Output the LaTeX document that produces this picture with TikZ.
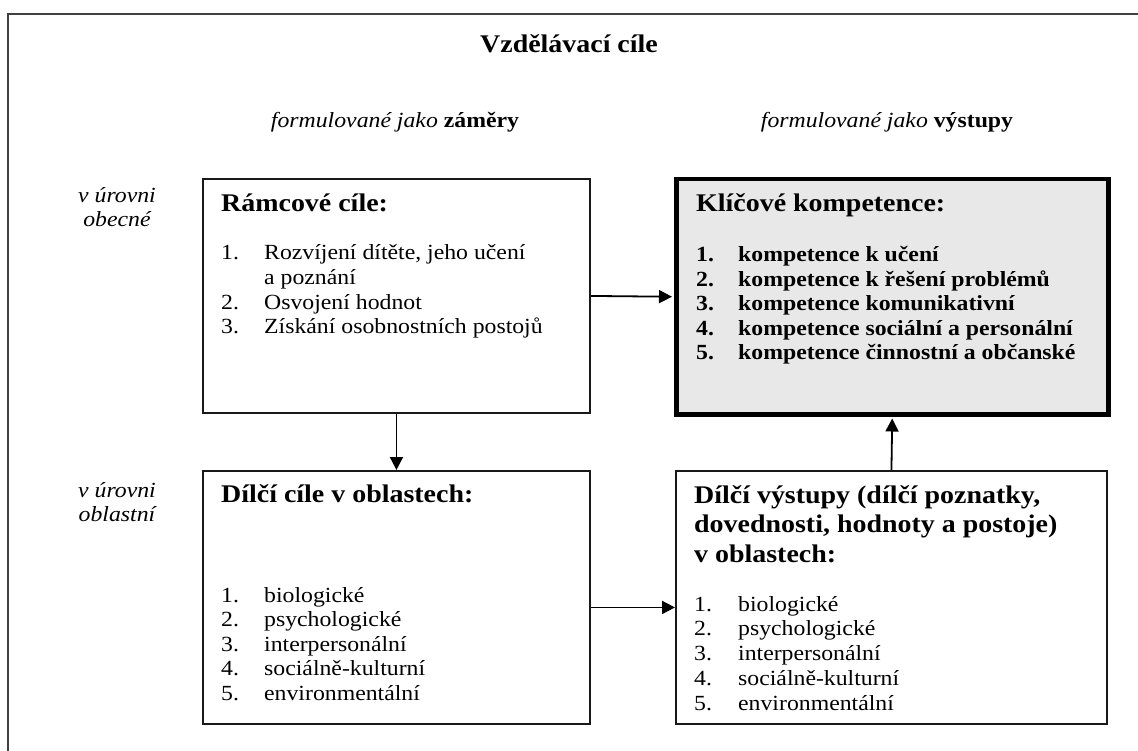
\documentclass[tikz,border=0pt]{standalone}
\usepackage{fontspec}
\setmainfont{Liberation Serif}[FakeStretch=1.1]
\usetikzlibrary{positioning,arrows.meta}

\tikzset{
  box/.style={draw=black!90, line width=1.9pt, anchor=north west, inner sep=0pt},
  keybox/.style={box, draw=black, line width=4.5pt, fill=gray!18},
  head/.style={inner sep=0pt, font=\fontsize{25.4}{29.5}\selectfont\bfseries},
  itemlist/.style={inner sep=0pt, anchor=base west, font=\fontsize{21.6}{24.6}\selectfont},
  level/.style={inner sep=0pt, anchor=base, font=\fontsize{21.6}{24}\selectfont\itshape},
  link/.style={-{Triangle[length=13pt,width=13pt]}, line width=1.8pt}
}

\begin{document}
\begin{tikzpicture}[x=1pt,y=-1pt]
\useasboundingbox (0,0) rectangle (1138,751);
\clip (0,0) rectangle (1138,751);
% outer frame
\draw[black!75, line width=2.2pt] (1150,14) -- (8,14) -- (8,760);

% headings
\node[head, anchor=base] (title) at (569,53) {Vzdělávací cíle};
\node[level, font=\fontsize{21.6}{24}\selectfont] (zamery) at (395,128) {\textit{formulované jako} \textbf{záměry}};
\node[level, font=\fontsize{21.6}{24}\selectfont] (vystupyhead) at (887,128) {\textit{formulované jako} \textbf{výstupy}};
\node[level] (obecne) at (117,203) {\begin{tabular}[t]{@{}c@{}}v úrovni\\obecné\end{tabular}};
\node[level] (oblastni) at (117,497) {\begin{tabular}[t]{@{}c@{}}v úrovni\\oblastní\end{tabular}};

% boxes
\node[box, minimum width=387pt, minimum height=234pt] (ramcove) at (202,178) {};
\node[keybox, minimum width=432pt, minimum height=235pt] (klicove) at (674,177) {};
\node[box, minimum width=387pt, minimum height=253pt] (dilcicile) at (202,470) {};
\node[box, minimum width=431pt, minimum height=253pt] (dilcivystupy) at (675,470) {};

% box texts
\node[head, anchor=base west] (ramcovetitle) at (221,212) {Rámcové cíle:};
\node[itemlist] (ramcovelist) at (221,260) {\begin{tabular}[t]{@{}p{43pt}@{}l@{}}
1.&Rozvíjení dítěte, jeho učení\\
  &a poznání\\
2.&Osvojení hodnot\\
3.&Získání osobnostních postojů
\end{tabular}};

\node[head, anchor=base west] (klicovetitle) at (696,212) {Klíčové kompetence:};
\node[itemlist, font=\fontsize{21.6}{24.5}\selectfont\bfseries] (klicovelist) at (696,262) {\begin{tabular}[t]{@{}p{42pt}@{}l@{}}
1.&kompetence k učení\\
2.&kompetence k řešení problémů\\
3.&kompetence komunikativní\\
4.&kompetence sociální a personální\\
5.&kompetence činnostní a občanské
\end{tabular}};

\node[head, anchor=base west] (dilcociletitle) at (221,502) {Dílčí cíle v oblastech:};
\node[itemlist, font=\fontsize{21.6}{24.5}\selectfont] (dilcicilelist) at (221,602) {\begin{tabular}[t]{@{}p{43pt}@{}l@{}}
1.&biologické\\
2.&psychologické\\
3.&interpersonální\\
4.&sociálně-kulturní\\
5.&environmentální
\end{tabular}};

\node[head, anchor=base west] (dilcivystupytitle) at (694,503) {\begin{tabular}[t]{@{}l@{}}
Dílčí výstupy (dílčí poznatky,\\
dovednosti, hodnoty a postoje)\\
v oblastech:
\end{tabular}};
\node[itemlist, font=\fontsize{21.6}{24.75}\selectfont] (dilcivystupylist) at (694,611) {\begin{tabular}[t]{@{}p{44pt}@{}l@{}}
1.&biologické\\
2.&psychologické\\
3.&interpersonální\\
4.&sociálně-kulturní\\
5.&environmentální
\end{tabular}};

% connectors
\draw[link, shorten >=2pt] (ramcove.east) -- (klicove.west);
\draw[link] (ramcove.south) -- (dilcicile.north);
\draw[link] ([yshift=-10pt]dilcicile.east) -- ([yshift=-10pt]dilcivystupy.west);
\draw[link, shorten >=2pt] (dilcivystupy.north) -- (klicove.south);
\end{tikzpicture}
\end{document}
